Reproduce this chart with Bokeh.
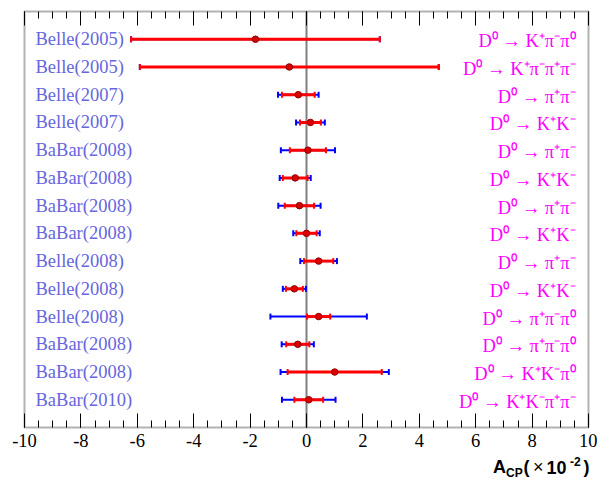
import numpy as np
from bokeh.plotting import figure
from bokeh.models import (ColumnDataSource, FixedTicker, LinearAxis, Whisker, TeeHead,
                          BoxAnnotation, CustomJSTickFormatter)
from bokeh.core.properties import value
from bokeh.embed import file_html
from bokeh.resources import INLINE

experiments = ["Belle(2005)", "Belle(2005)", "Belle(2007)", "Belle(2007)",
               "BaBar(2008)", "BaBar(2008)", "BaBar(2008)", "BaBar(2008)",
               "Belle(2008)", "Belle(2008)", "Belle(2008)", "BaBar(2008)",
               "BaBar(2008)", "BaBar(2010)"]
decays = ["D\u2070 \u2192 K\u207a\u03c0\u207b\u03c0\u2070",
          "D\u2070 \u2192 K\u207a\u03c0\u207b\u03c0\u207a\u03c0\u207b",
          "D\u2070 \u2192 \u03c0\u207a\u03c0\u207b",
          "D\u2070 \u2192 K\u207aK\u207b",
          "D\u2070 \u2192 \u03c0\u207a\u03c0\u207b",
          "D\u2070 \u2192 K\u207aK\u207b",
          "D\u2070 \u2192 \u03c0\u207a\u03c0\u207b",
          "D\u2070 \u2192 K\u207aK\u207b",
          "D\u2070 \u2192 \u03c0\u207a\u03c0\u207b",
          "D\u2070 \u2192 K\u207aK\u207b",
          "D\u2070 \u2192 \u03c0\u207a\u03c0\u207b\u03c0\u2070",
          "D\u2070 \u2192 \u03c0\u207a\u03c0\u207b\u03c0\u2070",
          "D\u2070 \u2192 K\u207aK\u207b\u03c0\u2070",
          "D\u2070 \u2192 K\u207aK\u207b\u03c0\u207a\u03c0\u207b"]
acp = [-1.81, -0.61, -0.29, 0.14, 0.05, -0.40, -0.25, 0.00, 0.43, -0.43, 0.43, -0.31, 1.00, 0.08]
stat_err = [4.41, 5.30, 0.58, 0.37, 0.64, 0.44, 0.52, 0.36, 0.52, 0.30, 0.41, 0.41, 1.67, 0.51]
total_err = [4.41, 5.30, 0.72, 0.51, 0.96, 0.55, 0.75, 0.47, 0.65, 0.41, 1.71, 0.57, 1.92, 0.95]

x_ticks = list(range(-10, 11, 2))
x_minor = list(np.arange(-10, 10.01, 0.5))
x_min, x_max = -10, 10

# axis title pieces
title_text = ["A", "CP", "(", "\u00d7", "10", "-2", ")"]

n = len(experiments)
y_min, y_max = 0, n + 1
rows = list(range(n, 0, -1))
a = np.array(acp)
s = np.array(stat_err)
t = np.array(total_err)
src = ColumnDataSource(dict(y=rows, acp=acp, exp=experiments, dec=decays,
                            slo=a - s, shi=a + s, tlo=a - t, thi=a + t))

# frame box in pixels: left 24, right 588, top 11, bottom 427 of a 597x479 canvas
W, H = 597, 479
fl, fr, ft, fb = 24.0, 588.0, 11.0, 427.0
sx = (fr - fl) / (x_max - x_min)
sy = (fb - ft) / (y_max - y_min)
x_lo = x_min - fl / sx
x_hi = x_max + (W - fr) / sx
y_lo = y_min - (H - fb) / sy
y_hi = y_max + ft / sy

p = figure(width=W, height=H, x_range=(x_lo, x_hi), y_range=(y_lo, y_hi),
           output_backend="svg", toolbar_location=None,
           min_border_left=0, min_border_right=0, min_border_top=0, min_border_bottom=0,
           x_axis_location=None, y_axis_location=None)
p.background_fill_color = "white"
p.border_fill_color = "white"
p.outline_line_color = None
p.xgrid.visible = False
p.ygrid.visible = False

ticker = FixedTicker(ticks=x_ticks, minor_ticks=x_minor)
for loc, fixed in (("below", y_min), ("above", y_max)):
    ax = LinearAxis(ticker=ticker, fixed_location=fixed)
    ax.axis_line_color = None
    ax.major_tick_in = 14
    ax.major_tick_out = 0
    ax.minor_tick_in = 7
    ax.minor_tick_out = 0
    ax.major_tick_line_width = 1
    ax.minor_tick_line_width = 1
    if loc == "below":
        ax.formatter = CustomJSTickFormatter(code="return tick.toFixed(0);")
        ax.major_label_text_font = "Liberation Serif"
        ax.major_label_text_font_size = "18.5px"
        ax.major_label_text_color = "black"
        ax.major_label_standoff = 6
    else:
        ax.formatter = CustomJSTickFormatter(code="return '';")
        ax.major_label_standoff = 0
    p.add_layout(ax, loc)

# zero reference line
p.segment(x0=[0], y0=[y_min], x1=[0], y1=[y_max], line_color="#808080", line_width=2)

wb = Whisker(source=src, base="y", lower="tlo", upper="thi", dimension="width",
             line_color="#0000ff", line_width=2, level="glyph",
             lower_head=TeeHead(size=6, line_color="#0000ff", line_width=2),
             upper_head=TeeHead(size=6, line_color="#0000ff", line_width=2))
p.add_layout(wb)
wr = Whisker(source=src, base="y", lower="slo", upper="shi", dimension="width",
             line_color="#ff0000", line_width=3, level="glyph",
             lower_head=TeeHead(size=6, line_color="#ff0000", line_width=2),
             upper_head=TeeHead(size=6, line_color="#ff0000", line_width=2))
p.add_layout(wr)

p.scatter(x="acp", y="y", source=src, size=6.5, fill_color="#dd0000",
          line_color="#880000", line_width=1, level="overlay")

# frame
p.add_layout(BoxAnnotation(left=x_min, right=x_max, bottom=y_min, top=y_max,
                           fill_color=None, line_color="black", line_width=2,
                           level="overlay"))

p.text(x=-9.61, y="y", text="exp", source=src, text_font=value("Liberation Serif"),
       text_font_size="18.5px", text_color="#6666dd", text_baseline="middle",
       y_offset=0)
p.text(x=9.54, y="y", text="dec", source=src, text_font=value("Liberation Serif"),
       text_font_size="18.5px", text_color="#ff00ff", text_baseline="middle",
       text_align="right", y_offset=2)

def px2x(px):
    return x_lo + px / sx

def py2y(py):
    return y_hi - py / sy

title_x = [492.5, 505.5, 523.0, 532.5, 546.0, 569.5, 583.0]
title_y = [466.5, 472.5, 466.5, 466.5, 466.5, 460.5, 466.5]
title_size = ["18px", "12px", "18px", "18px", "18px", "12px", "18px"]
title_style = ["bold", "bold", "bold", "normal", "bold", "bold", "bold"]
for txt, xx, yy, fs, st in zip(title_text, title_x, title_y, title_size, title_style):
    p.text(x=[px2x(xx)], y=[py2y(yy)], text=[txt], text_font=value("Liberation Sans"),
           text_font_size=value(fs), text_font_style=st, text_color="black",
           text_baseline="middle", text_align="left")

open("out.html", "w").write(file_html(p, INLINE))
